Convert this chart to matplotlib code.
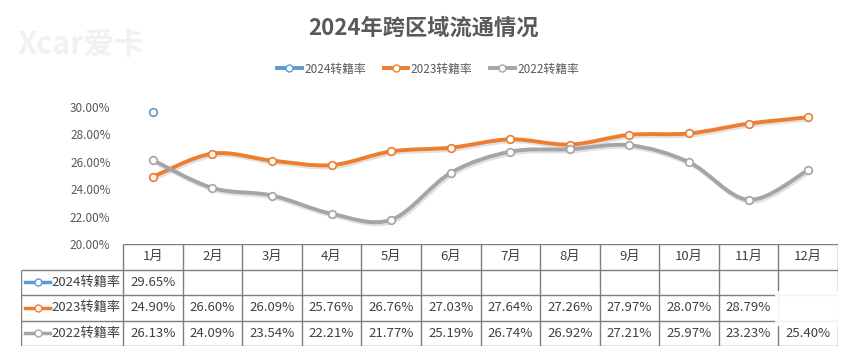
import matplotlib.pyplot as plt
import matplotlib.patheffects as pe
from matplotlib.path import Path
from matplotlib.patches import PathPatch, Rectangle
from matplotlib.lines import Line2D
from matplotlib.ticker import FuncFormatter

plt.rcParams['font.family'] = ['Noto Sans CJK SC', 'DejaVu Sans']

months = ['1月', '2月', '3月', '4月', '5月', '6月', '7月', '8月', '9月', '10月', '11月', '12月']
names = ['2024转籍率', '2023转籍率', '2022转籍率']
r2024 = [29.65]
r2023 = [24.90, 26.60, 26.09, 25.76, 26.76, 27.03, 27.64, 27.26, 27.97, 28.07, 28.79, 29.25]
r2022 = [26.13, 24.09, 23.54, 22.21, 21.77, 25.19, 26.74, 26.92, 27.21, 25.97, 23.23, 25.40]
hidden_cells = [(1, 11)]  # 2023 / 12月 is covered in the source
colors = ['#5B9BD5', '#ED7D31', '#A5A5A5']
series = [r2024, r2023, r2022]

W, H = 852, 353
fig = plt.figure(figsize=(W / 100, H / 100), dpi=100)

def fx(px):
    return px / W

def fy(py):
    return 1 - py / H

# watermark
fig.text(fx(18), fy(45), 'Xcar爱卡', fontsize=22, fontweight='bold', style='italic',
         color='#f1f1f1', va='center', ha='left')

fig.text(fx(423), fy(28), '2024年跨区域流通情况', fontsize=16, fontweight='bold',
         color='#595959', ha='center', va='center')

# main axes
ax = fig.add_axes([fx(123), fy(244), fx(838) - fx(123), fy(107) - fy(244)])
ax.set_xlim(0.5, 12.5)
ax.set_ylim(20, 30)
ax.set_yticks([20, 22, 24, 26, 28, 30])
ax.yaxis.set_major_formatter(FuncFormatter(lambda v, p: f'{v:.2f}%'))
ax.tick_params(axis='y', length=0, pad=9, labelsize=8.5, labelcolor='#595959')
ax.set_xticks([])
for s in ax.spines.values():
    s.set_visible(False)
ax.patch.set_alpha(0)


def smooth_path(xs, ys):
    pts = list(zip(xs, ys))
    verts = [pts[0]]
    codes = [Path.MOVETO]
    n = len(pts)
    for i in range(n - 1):
        p0 = pts[i - 1] if i > 0 else pts[i]
        p1 = pts[i]
        p2 = pts[i + 1]
        p3 = pts[i + 2] if i + 2 < n else pts[i + 1]
        c1 = (p1[0] + (p2[0] - p0[0]) / 6, p1[1] + (p2[1] - p0[1]) / 6)
        c2 = (p2[0] - (p3[0] - p1[0]) / 6, p2[1] - (p3[1] - p1[1]) / 6)
        verts += [c1, c2, p2]
        codes += [Path.CURVE4] * 3
    return Path(verts, codes)


shadow = [pe.SimpleLineShadow(offset=(1, -1.5), alpha=0.25, shadow_color='#888888'), pe.Normal()]
for vals, c in zip(series, colors):
    xs = list(range(1, len(vals) + 1))
    if len(vals) > 1:
        patch = PathPatch(smooth_path(xs, vals), fill=False, edgecolor=c, lw=2.8,
                          capstyle='round', path_effects=shadow)
        ax.add_patch(patch)
    ax.plot(xs, vals, ls='none', marker='o', ms=5.5, mfc='#fffdf8', mec=c, mew=1.2, zorder=3)

# legend
handles = [Line2D([], [], color=c, lw=2.8, marker='o', ms=5, mfc='white', mec=c, mew=1)
           for c in colors]
fig.legend(handles, names, loc='center', bbox_to_anchor=(fx(428), fy(69)), ncol=3,
           frameon=False, fontsize=8.5, handlelength=2.1, handletextpad=0.2,
           columnspacing=1.5, labelcolor='#595959')

# data table
unit = (838 - 123) / 12
xl = 0.5 - (123 - 21) / unit
tb = fig.add_axes([fx(21), fy(346), fx(838) - fx(21), fy(244) - fy(346)])
tb.set_xlim(xl, 12.5)
tb.set_ylim(4, 0)
tb.axis('off')
lc = '#7f7f7f'
tb.hlines(0, 0.5, 12.5, color=lc, lw=1)
tb.hlines([1, 2, 3, 4], xl, 12.5, color=lc, lw=1)
tb.vlines([k + 0.5 for k in range(13)], 0, 4, color=lc, lw=1)
tb.vlines(xl, 1, 4, color=lc, lw=1)
for j, m in enumerate(months):
    tb.text(j + 1, 0.5, m, ha='center', va='center', fontsize=9.5, color='#404040')
for i, (vals, c, nm) in enumerate(zip(series, colors, names)):
    yy = i + 1.5
    tb.plot([xl + 0.07, xl + 0.49], [yy, yy], color=c, lw=2.5)
    tb.plot([xl + 0.28], [yy], ls='none', marker='o', ms=5, mfc='white', mec=c, mew=1)
    tb.text(xl + 0.51, yy, nm, ha='left', va='center', fontsize=9.5, color='#404040')
    for j, v in enumerate(vals):
        if (i, j) in hidden_cells:
            continue
        tb.text(j + 1, yy, f'{v:.2f}%', ha='center', va='center', fontsize=9.5, color='#404040')
for i, j in hidden_cells:
    tb.add_patch(Rectangle((j + 0.5 - 0.05, i + 0.85), 1.15, 1.35, facecolor='white',
                           edgecolor='none', alpha=0.9, zorder=5, clip_on=False))

fig.savefig('out.png', dpi=100)
